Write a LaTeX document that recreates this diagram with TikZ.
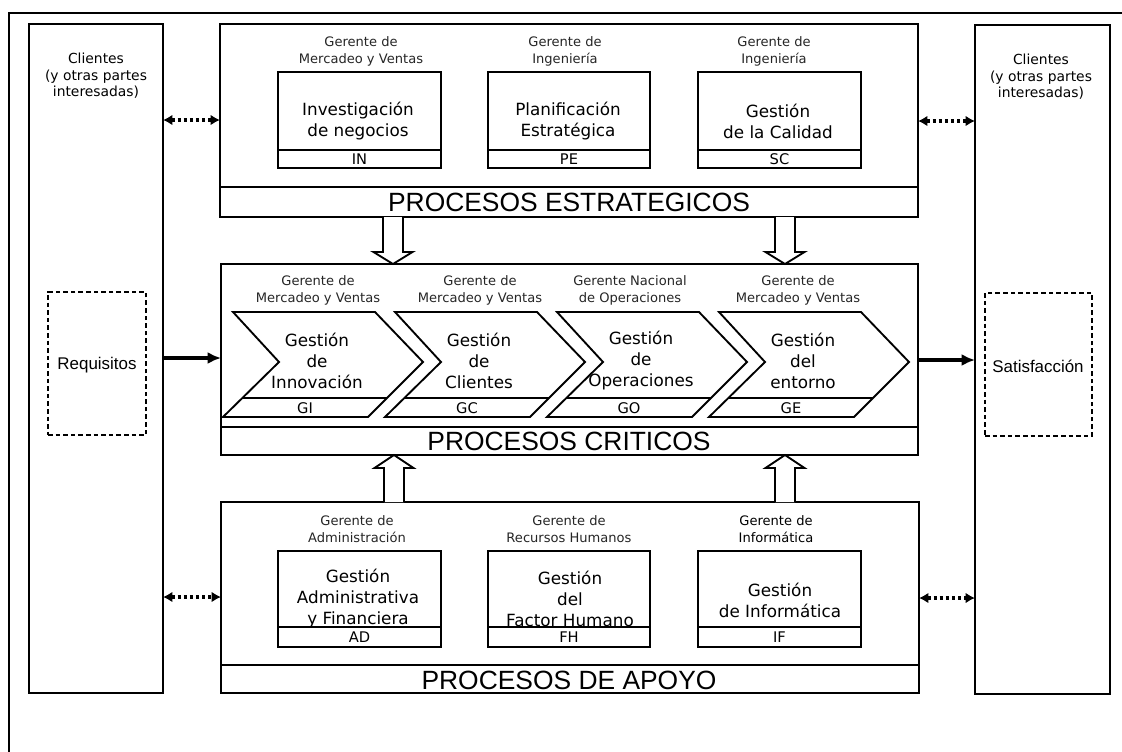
\documentclass[tikz,border=0pt]{standalone}
\usepackage{fontspec}
\setmainfont{DejaVu Sans}
\newfontfamily\arialfont{Liberation Sans}
\usetikzlibrary{arrows.meta,fit,calc}

% hollow block arrow: #1 start point, #2 tip point, #3 vertical offset of the head base
\newcommand\hollowarrowpath[3]{%
  \draw[hollow] ($(#1)+(-10,0)$) -- ($(#2)+(-10,#3)$) -- ($(#2)+(-19.5,#3)$) -- (#2)
    -- ($(#2)+(19.5,#3)$) -- ($(#2)+(10,#3)$) -- ($(#1)+(10,0)$);
}

% chevron-shaped process: #1 left x, #2 name, #3 text, #4 code
\newcommand\chevronproc[4]{%
  \draw[rule, fill=white] (#1,312) -- ++(142,0) -- ++(48,50) -- ++(-55,55) -- ++(-145,0) -- ++(56,-55) -- cycle;
  \draw[rule] (#1+9.3,398) -- (#1+154,398);
  \node[proc] (#2) at (#1+84,361) {#3};
  \node[code] (#2code) at (#1+72,408) {#4};
}

\begin{document}
\begin{tikzpicture}[x=0.75pt,y=-0.75pt,
  frame/.style={draw, line width=1.4pt, inner sep=0pt, outer sep=0pt, rectangle},
  rule/.style={line width=1.4pt},
  dashbox/.style={draw, line width=1.1pt, dash pattern=on 3.5pt off 2.2pt, inner sep=0pt, outer sep=0pt},
  mgr/.style={font=\fontsize{9.8}{12.75}\selectfont, align=center, text=black!85, inner sep=0pt},
  proc/.style={font=\fontsize{12.6}{15.75}\selectfont, align=center, inner sep=0pt},
  code/.style={font=\fontsize{11}{12}\selectfont, inner sep=0pt},
  title/.style={font=\arialfont\fontsize{19.8}{22}\selectfont, inner sep=0pt},
  client/.style={font=\fontsize{10.4}{12.4}\selectfont, align=center, inner sep=0pt},
  need/.style={font=\arialfont\fontsize{12.7}{15}\selectfont, inner sep=0pt},
  flow/.style={line width=2.8pt, -{Latex[length=10pt,width=9pt]}},
  link/.style={line width=2.7pt, dash pattern=on 2.4pt off 2.2pt,
    {Latex[length=7pt,width=8pt]}-{Latex[length=7pt,width=8pt]}},
  hollow/.style={draw, fill=white, line width=1.4pt, line join=miter},
]
\fill[white] (0,0) rectangle (1122,751);
\useasboundingbox (0,0) rectangle (1122,751);

% outer frame
\draw[line width=1.2pt] (9,770) -- (9,13) -- (1140,13);

% stakeholder columns
\node[frame, fit={(29,24)(163,693)}] (lcol) {};
\node[frame, fit={(975,25)(1110,694)}] (rcol) {};
\node[client] (lcli) at (96,76) {Clientes\\(y otras partes\\interesadas)};
\node[client] (rcli) at (1041,77) {Clientes\\(y otras partes\\interesadas)};
\node[dashbox, fit={(48,292)(146,435)}] (req) {};
\node[need] (reqtext) at (97,365) {Requisitos};
\node[dashbox, fit={(985,293)(1092,436)}] (sat) {};
\node[need] (sattext) at (1038,366) {Satisfacción};

% helper levels
\coordinate (ystrat) at (0,187);
\coordinate (ycrit) at (0,427);
\coordinate (ysupp) at (0,665);
\coordinate (yband1) at (0,150);
\coordinate (yband3) at (0,627);

% strategic processes
\node[frame, fit={(220,24)(918,217)}] (strat) {};
\draw[rule] (strat.west |- ystrat) -- (strat.east |- ystrat);
\node[title] (tstrat) at (569,202) {PROCESOS ESTRATEGICOS};

\node[mgr] (m1) at (361,51.5) {Gerente de\\Mercadeo y Ventas};
\node[mgr] (m2) at (565,51.5) {Gerente de\\Ingeniería};
\node[mgr] (m3) at (774,51.5) {Gerente de\\Ingeniería};

\node[frame, fit={(278,72)(441,168)}] (bin) {};
\node[frame, fit={(488,72)(650,168)}] (bpe) {};
\node[frame, fit={(698,72)(861,168)}] (bsc) {};
\foreach \b in {bin,bpe,bsc}{\draw[rule] (\b.west |- yband1) -- (\b.east |- yband1);}
\node[proc] (tin) at (358,121) {Investigación\\de negocios};
\node[proc] (tpe) at (568,121) {Planificación\\Estratégica};
\node[proc] (tsc) at (778,121) {Gestión\\de la Calidad};
\node[code] (cin) at (359.5,159) {IN};
\node[code] (cpe) at (569,159) {PE};
\node[code] (csc) at (779.5,159) {SC};

% critical processes
\node[frame, fit={(221,264)(918,455)}] (crit) {};
\draw[rule] (crit.west |- ycrit) -- (crit.east |- ycrit);
\node[title] (tcrit) at (569,441) {PROCESOS CRITICOS};

\node[mgr] (m4) at (318,290) {Gerente de\\Mercadeo y Ventas};
\node[mgr] (m5) at (480,290) {Gerente de\\Mercadeo y Ventas};
\node[mgr] (m6) at (630,290) {Gerente Nacional\\de Operaciones};
\node[mgr] (m7) at (798,290) {Gerente de\\Mercadeo y Ventas};

\chevronproc{233}{gi}{Gestión\\de\\Innovación}{GI}
\chevronproc{395}{gc}{Gestión\\de\\Clientes}{GC}
\chevronproc{557}{go}{Gestión\\de\\Operaciones}{GO}
\chevronproc{719}{ge}{Gestión\\del\\entorno}{GE}

% support processes
\node[frame, fit={(221,502)(919,693)}] (supp) {};
\draw[rule] (supp.west |- ysupp) -- (supp.east |- ysupp);
\node[title] (tsupp) at (569,680) {PROCESOS DE APOYO};

\node[mgr] (m8) at (357,529) {Gerente de\\Administración};
\node[mgr] (m9) at (569,529) {Gerente de\\Recursos Humanos};
\node[mgr, text=black] (m10) at (776,529) {Gerente de\\Informática};

\node[frame, fit={(278,551)(441,647)}] (bad) {};
\node[frame, fit={(488,551)(650,647)}] (bfh) {};
\node[frame, fit={(698,551)(861,647)}] (bif) {};
\foreach \b in {bad,bfh,bif}{\draw[rule] (\b.west |- yband3) -- (\b.east |- yband3);}
\node[proc] (tad) at (358,599) {Gestión\\Administrativa\\y Financiera};
\node[proc] (tfh) at (570,599) {Gestión\\del\\Factor Humano};
\node[proc] (tif) at (780,600) {Gestión\\de Informática};
\node[code] (cad) at (359.5,637.5) {AD};
\node[code] (cfh) at (569,637.5) {FH};
\node[code] (cif) at (779.5,637.5) {IF};

% hollow arrows between the process levels
\coordinate (xa) at (393,0);
\coordinate (xb) at (785,0);
\coordinate (xc) at (394,0);
\coordinate (xd) at (785,0);
\coordinate (a1s) at (strat.south -| xa);
\coordinate (a1e) at (crit.north -| xa);
\coordinate (a2s) at (strat.south -| xb);
\coordinate (a2e) at (crit.north -| xb);
\coordinate (a3s) at (supp.north -| xc);
\coordinate (a3e) at (crit.south -| xc);
\coordinate (a4s) at (supp.north -| xd);
\coordinate (a4e) at (crit.south -| xd);
\hollowarrowpath{a1s}{a1e}{-12}
\hollowarrowpath{a2s}{a2e}{-12}
\hollowarrowpath{a3s}{a3e}{13}
\hollowarrowpath{a4s}{a4e}{13}

% requirements in, satisfaction out
\coordinate (yin) at (0,358);
\coordinate (yout) at (0,360);
\draw[flow] (lcol.east |- yin) -- (crit.west |- yin);
\draw[flow] (crit.east |- yout) -- (rcol.west |- yout);

% exchanges with the stakeholders
\coordinate (yl1) at (0,120);
\coordinate (yr1) at (0,121);
\coordinate (yl2) at (0,597);
\coordinate (yr2) at (0,598);
\draw[link] (lcol.east |- yl1) -- (strat.west |- yl1);
\draw[link] (strat.east |- yr1) -- (rcol.west |- yr1);
\draw[link] (lcol.east |- yl2) -- (supp.west |- yl2);
\draw[link] (supp.east |- yr2) -- (rcol.west |- yr2);
\end{tikzpicture}
\end{document}
